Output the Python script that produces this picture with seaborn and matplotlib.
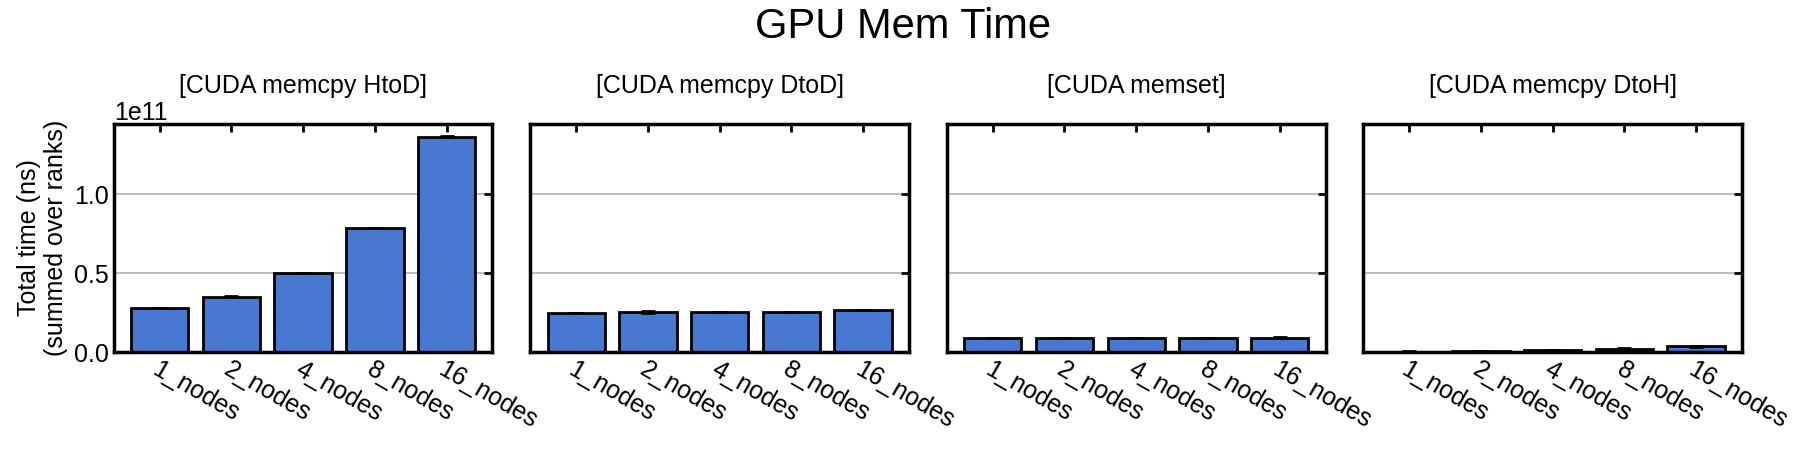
import matplotlib
matplotlib.use("Agg")
import matplotlib.pyplot as plt
import pandas as pd
import seaborn as sns

nodes = ["1_nodes", "2_nodes", "4_nodes", "8_nodes", "16_nodes"]
kernels = ["[CUDA memcpy HtoD]", "[CUDA memcpy DtoD]",
           "[CUDA memset]", "[CUDA memcpy DtoH]"]

# mean total time (ns) per node count, one list per kernel
htod = [2.80e10, 3.50e10, 4.98e10, 7.85e10, 1.365e11]
dtod = [2.47e10, 2.54e10, 2.53e10, 2.54e10, 2.66e10]
memset = [0.89e10, 0.89e10, 0.89e10, 0.89e10, 0.90e10]
dtoh = [0.03e10, 0.05e10, 0.14e10, 0.22e10, 0.36e10]

htod_err = [0.005e10, 0.03e10, 0.005e10, 0.02e10, 0.04e10]
dtod_err = [0.02e10, 0.04e10, 0.02e10, 0.02e10, 0.02e10]
memset_err = [0.005e10, 0.005e10, 0.005e10, 0.005e10, 0.03e10]
dtoh_err = [0.005e10, 0.005e10, 0.01e10, 0.01e10, 0.015e10]

values = [htod, dtod, memset, dtoh]
errors = [htod_err, dtod_err, memset_err, dtoh_err]


def main():
    sns.set_style("white")
    plt.rcParams['font.family'] = ['Liberation Sans', 'DejaVu Sans']
    plt.rcParams['font.size'] = 18
    plt.rcParams['text.color'] = 'black'
    plt.rcParams['xtick.color'] = 'black'
    plt.rcParams['ytick.color'] = 'black'
    plt.rcParams['axes.labelcolor'] = 'black'

    fig, axes = plt.subplots(1, 4, figsize=(18.06, 4.49), dpi=100,
                             sharey=True)
    fig.subplots_adjust(left=0.063, right=0.9646, top=0.724,
                        bottom=0.216, wspace=0.1)

    for ax, name, vals, errs in zip(axes, kernels, values, errors):
        df = pd.DataFrame({'nodes': nodes, 'time': vals})
        sns.barplot(data=df, x='nodes', y='time', ax=ax, color='#4878cf',
                    saturation=1, edgecolor='black', linewidth=2,
                    errorbar=None, width=0.8)
        ax.errorbar(range(len(nodes)), vals, yerr=errs, fmt='none',
                    ecolor='black', elinewidth=1.5, capsize=5, capthick=2)
        ax.set_title(name, fontsize=18, pad=22)
        ax.set_xlabel('')
        ax.set_ylabel('')
        ax.yaxis.grid(True, color='#b0b0b0', linewidth=1.2)
        ax.set_axisbelow(True)
        for sp in ax.spines.values():
            sp.set_linewidth(2.5)
            sp.set_color('black')
        ax.tick_params(direction='in', length=6, width=2, top=True,
                       right=True, labelsize=18, color='black')
        for lbl in ax.get_xticklabels():
            lbl.set_rotation(-30)
            lbl.set_ha('left')
            lbl.set_rotation_mode('anchor')

    axes[0].set_ylim(0, 1.445e11)
    axes[0].set_yticks([0, 0.5e11, 1.0e11])
    axes[0].yaxis.get_offset_text().set_fontsize(18)
    axes[0].set_ylabel('Total time (ns)\n(summed over ranks)', fontsize=18)
    fig.suptitle('GPU Mem Time', fontsize=30, y=0.985)
    fig.savefig('out.png', dpi=100)


if __name__ == '__main__':
    main()
